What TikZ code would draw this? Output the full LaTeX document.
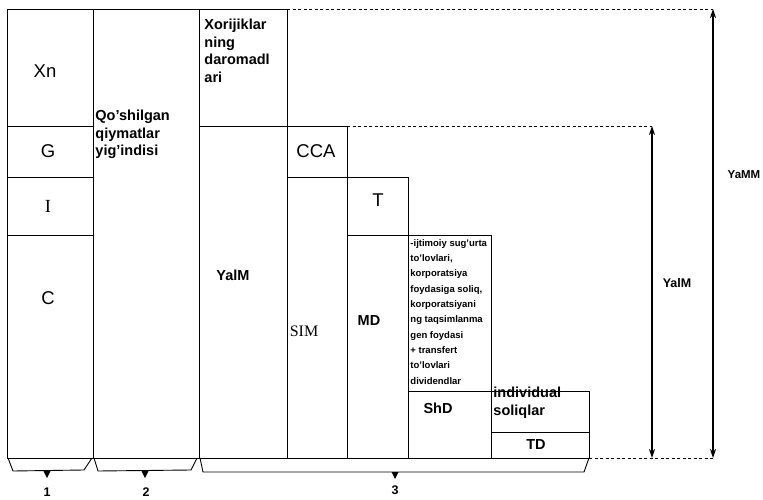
\documentclass[tikz,border=0pt]{standalone}
\usepackage{fontspec}
\setmainfont{Liberation Sans}
\newfontfamily\serifface{Liberation Serif}
\usetikzlibrary{arrows.meta}

\begin{document}
\begin{tikzpicture}[x=1pt,y=-1pt,line width=0.9pt,
  big/.style={inner sep=0pt,font=\fontsize{18.5}{20}\selectfont},
  bold/.style={inner sep=0pt,align=left,font=\fontsize{14.5}{17.5}\selectfont\bfseries},
  small/.style={inner sep=0pt,align=left,font=\fontsize{9.5}{15.3}\selectfont\bfseries},
  guide/.style={dash pattern=on 3pt off 2.5pt,line width=0.8pt},
  dim/.style={{Stealth[length=9pt,width=6pt]}-{Stealth[length=9pt,width=6pt]},line width=1.1pt}]

\useasboundingbox (0,0) rectangle (763,500);

% Column 1: Xn, G, I, C
\draw (7,9) rectangle (93,458);
\foreach \y in {126,177,235}
{
\draw (7,\y)--(93,\y);
}
\node[big] (xn) at (45,71){Xn};
\node[big] (g) at (48,151){G};
\node[big,font=\fontsize{18.5}{20}\selectfont\serifface] (i) at (48,206){I};
\node[big] (c) at (48,298){C};

% Column 2
\draw (93,9) rectangle (199,458);
\node[bold,anchor=north west] (qoshilgan) at (95,110){Qo'shilgan\\qiymatlar\\yig'indisi};

% Column 3
\draw (199,9) rectangle (287,458);
\draw (199,126)--(287,126);
\node[bold,anchor=north west] (xorij) at (204,19){Xorijiklar\\ning\\daromadl\\ari};
\node[bold] (yalm) at (233,275){YalM};

% Column 4: CCA, SIM
\draw (287,126) rectangle (347,458);
\draw (287,177)--(347,177);
\node[big] (cca) at (316,151){CCA};
\node[font=\fontsize{16}{18}\selectfont\serifface,inner sep=0pt] (sim) at (304,331){SIM};

% Column 5: T, MD
\draw (347,177) rectangle (408,458);
\draw (347,235)--(408,235);
\node[big] (t) at (378,200){T};
\node[bold] (md) at (369,321){MD};

% Column 6: transfers, ShD
\draw (408,235) rectangle (491,458);
\draw (408,391)--(491,391);
\node[small,anchor=north west] (transf) at (410,239){-ijtimoiy sug'urta\\to'lovlari,\\korporatsiya\\foydasiga soliq,\\korporatsiyani\\ng taqsimlanma\\gen foydasi\\+ transfert\\to'lovlari\\dividendlar};
\node[bold] (shd) at (438,408){ShD};

% Column 7: individual soliqlar, TD
\draw (491,391) rectangle (589,458);
\draw (491,432)--(589,432);
\node[bold,anchor=north west] (indiv) at (493,387){individual\\soliqlar};
\node[bold] (td) at (536,445){TD};

% Dashed guide lines
\coordinate (topR) at (713,9);
\coordinate (midR) at (652,126);
\coordinate (botA) at (652,458);
\coordinate (botB) at (713,458);
\draw[guide] (287,9)--(topR);
\draw[guide] (347,126)--(midR);
\draw[guide] (589,458)--(botB);

% Dimension arrows
\draw[dim] (midR)--(botA);
\draw[dim] (topR)--(botB);
\node[bold,font=\fontsize{12.5}{15}\selectfont\bfseries] (yalmR) at (677,283){YalM};
\node[bold,font=\fontsize{11.5}{14}\selectfont\bfseries] (yamm) at (744,175){YaMM};

% Brackets below
\draw (8,458)--(13,471)--(84,470)--(92,458);
\draw (94,458)--(98,471)--(191,470)--(197,458);
\draw (200,458)--(203,472)--(584,472)--(589,458);
\foreach \x/\y in {47/471,145/471,395/472}
{
\fill (\x-3.5,\y)--(\x+3.5,\y)--(\x,\y+7)--cycle;
}
\node[bold,font=\fontsize{12.5}{14}\selectfont\bfseries] (n1) at (47,492){1};
\node[bold,font=\fontsize{12.5}{14}\selectfont\bfseries] (n2) at (146,492){2};
\node[bold,font=\fontsize{12.5}{14}\selectfont\bfseries] (n3) at (395,490){3};

\end{tikzpicture}
\end{document}
